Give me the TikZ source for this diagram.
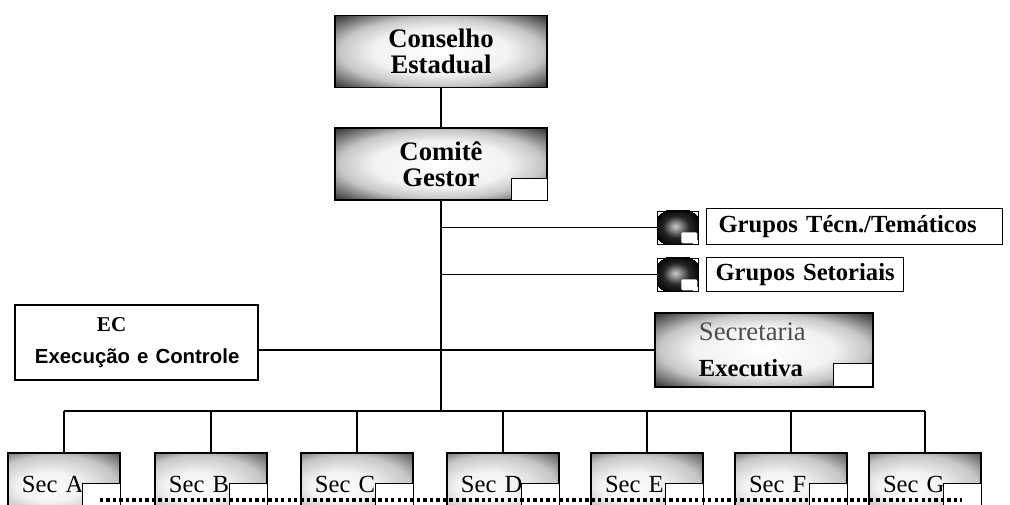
\documentclass[tikz,border=0pt]{standalone}
\usepackage{fontspec}
\setmainfont{Liberation Serif}
\setsansfont{Liberation Sans}
\colorlet{shadeA}{gray!10}
\colorlet{shadeB}{gray!45}
\colorlet{shadeC}{black!75}
\colorlet{iconA}{gray!40}
\pgfdeclareradialshading{boxshade}{\pgfpoint{0bp}{0bp}}{color(0bp)=(white); color(16bp)=(shadeA); color(24bp)=(shadeB); color(34bp)=(shadeC); color(50bp)=(black)}
\pgfdeclareradialshading{secshade}{\pgfpoint{-9bp}{-9bp}}{color(0bp)=(white); color(14bp)=(shadeA); color(28bp)=(shadeB); color(42bp)=(shadeC); color(60bp)=(black)}
\pgfdeclareradialshading{iconshade}{\pgfpoint{-3bp}{2bp}}{color(0bp)=(iconA); color(16bp)=(black!85); color(30bp)=(black)}
\tikzset{
  orgbox/.style={draw=black, line width=1.2pt, shading=boxshade, minimum width=5.3cm, minimum height=1.8cm,
    align=center, font=\fontsize{19}{18.5}\selectfont\bfseries},
  secbox/.style={draw=black, line width=1.2pt, shading=secshade, minimum width=2.8cm, minimum height=1.325cm,
    text width=2.1cm, inner xsep=0.35cm, align=left, text height=0.65cm, text depth=0.025cm,
    font=\fontsize{17.5}{17.5}\selectfont},
  icon/.style={draw=black, shading=iconshade, minimum width=1.025cm, minimum height=0.825cm, inner sep=0pt},
  txtbox/.style={draw=black, line width=0.8pt, fill=white, anchor=west, minimum height=0.9cm, align=left,
    font=\fontsize{17.5}{17.5}\selectfont\bfseries},
  tab/.style={draw=black, fill=white, line width=0.8pt},
  link/.style={line width=1pt}
}
\begin{document}
\begin{tikzpicture}[x=0.025cm, y=-0.025cm]
    \useasboundingbox (0,0) rectangle (1010,505);
    % top of the structure
    \node[orgbox] (conselho) at (441,51.5) {Conselho\\Estadual};
    \node[orgbox] (comite) at (441,164) {Comitê\\Gestor};
    \draw[tab] (comite.south east) ++(-36,0) rectangle ++(36,-22);
    \draw[link] (conselho) -- (comite);
    % working groups on the right
    \node[icon] (tecicon) at (677.5,227.5) {};
    \node[icon] (seticon) at (677.5,274.5) {};
    \fill[white, rounded corners=1pt] (tecicon.south east) ++(-17,-1) rectangle ++(16,-11);
    \fill[white, rounded corners=1pt] (seticon.south east) ++(-17,-1) rectangle ++(16,-11);
    \node[txtbox, minimum width=7.4cm, text width=6.8cm, inner xsep=0.3cm] (tecbox) at (706,226.5) {\mbox{Grupos Técn./Temáticos}};
    \node[txtbox, minimum width=4.925cm, text width=4.475cm, inner xsep=0.225cm, minimum height=0.85cm] (setbox) at (706,274.5) {\mbox{Grupos Setoriais}};
    % EC and executive secretariat
    \node[draw=black, line width=1pt, fill=white, minimum width=6.075cm, minimum height=1.875cm,
      text width=5.075cm, inner xsep=0.5cm, align=left, font=\fontsize{15}{22.8}\selectfont\bfseries] (ec) at (136.5,342.5)
      {\hspace*{1.55cm}EC\\{\sffamily\fontsize{14.5}{22.8}\selectfont \mbox{Execução e Controle}}};
    \node[draw=black, line width=1.2pt, shading=boxshade, minimum width=5.45cm, minimum height=1.85cm,
      text width=3.25cm, inner xsep=1.1cm, align=left, font=\fontsize{19}{25.6}\selectfont] (secret) at (764,350)
      {{\color{black!70}\mbox{Secretaria}}\\{\bfseries\fontsize{17.5}{25.6}\selectfont \mbox{Executiva}}};
    \draw[tab] (secret.south east) ++(-40,-1) rectangle ++(39,-23);
    % sections
    \foreach \lbl/\cx in {A/64, B/211, C/357, D/503, E/647, F/791, G/925} {
        \node[secbox] (sec\lbl) at (\cx,479.5) {Sec \lbl};
        \draw[tab] (sec\lbl.south east) ++(-38,0) rectangle ++(38,-23);
    }
    % lines
    \coordinate (bus) at (441,411);
    \draw[link] (comite.south) -- (bus);
    \draw[link] (comite.south |- tecicon.west) -- (tecicon.west);
    \draw[link] (comite.south |- seticon.west) -- (seticon.west);
    \draw[link] (secret.west -| ec.east) -- (secret.west);
    \draw[link] (secA.north |- bus) -- (secG.north |- bus);
    \foreach \lbl in {A,B,C,D,E,F,G}
        \draw[link] (sec\lbl.north |- bus) -- (sec\lbl.north);
    % dotted line along the bottom
    \coordinate (dotL) at (100,500);
    \coordinate (dotR) at (962,500);
    \draw[line width=2.6pt, dash pattern=on 2.4pt off 2.2pt] (dotL) -- (dotR);
\end{tikzpicture}
\end{document}
